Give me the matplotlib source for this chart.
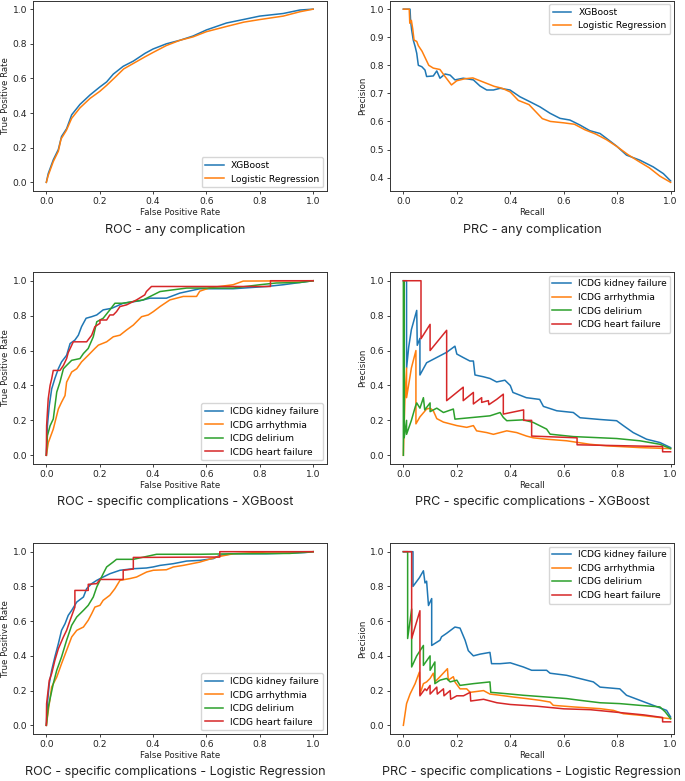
import matplotlib
matplotlib.use("Agg")
import matplotlib.pyplot as plt

# ---------------- data ----------------
# ROC - any complication
roc_any_xgb_fpr = [0, 0.007, 0.026, 0.045, 0.057, 0.076, 0.095, 0.126, 0.164, 0.2, 0.226, 0.251, 0.288, 0.326, 0.37, 0.40, 0.45, 0.5, 0.55, 0.6, 0.675, 0.738, 0.8, 0.888, 0.95, 1.0]
roc_any_xgb_tpr = [0, 0.05, 0.13, 0.19, 0.265, 0.31, 0.39, 0.45, 0.505, 0.55, 0.58, 0.625, 0.67, 0.70, 0.745, 0.77, 0.80, 0.82, 0.845, 0.88, 0.92, 0.94, 0.96, 0.975, 0.995, 1.0]
roc_any_lr_fpr = [0, 0.007, 0.026, 0.045, 0.055, 0.075, 0.095, 0.126, 0.164, 0.2, 0.226, 0.26, 0.29, 0.33, 0.37, 0.40, 0.45, 0.5, 0.55, 0.6, 0.675, 0.74, 0.8, 0.888, 0.95, 1.0]
roc_any_lr_tpr = [0, 0.04, 0.12, 0.18, 0.25, 0.30, 0.37, 0.43, 0.485, 0.525, 0.56, 0.61, 0.655, 0.69, 0.725, 0.75, 0.79, 0.82, 0.84, 0.87, 0.90, 0.925, 0.94, 0.96, 0.985, 1.0]

# PRC - any complication
prc_any_xgb_rec = [0, 0.025, 0.027, 0.031, 0.037, 0.044, 0.05, 0.056, 0.069, 0.081, 0.087, 0.112, 0.125, 0.137, 0.156, 0.175, 0.193, 0.224, 0.262, 0.287, 0.312, 0.337, 0.362, 0.399, 0.436, 0.474, 0.511, 0.549, 0.586, 0.623, 0.661, 0.698, 0.736, 0.761, 0.798, 0.835, 0.885, 0.935, 0.973, 1.0]
prc_any_xgb_prec = [1.0, 1.0, 0.96, 0.926, 0.89, 0.867, 0.843, 0.80, 0.795, 0.783, 0.76, 0.762, 0.78, 0.754, 0.769, 0.765, 0.748, 0.754, 0.748, 0.726, 0.712, 0.712, 0.718, 0.712, 0.688, 0.670, 0.652, 0.629, 0.611, 0.605, 0.587, 0.567, 0.557, 0.539, 0.512, 0.48, 0.462, 0.438, 0.414, 0.388]
prc_any_lr_rec = [0, 0.022, 0.024, 0.03, 0.035, 0.04, 0.05, 0.056, 0.07, 0.085, 0.095, 0.112, 0.137, 0.156, 0.18, 0.2, 0.23, 0.26, 0.3, 0.34, 0.37, 0.40, 0.43, 0.47, 0.5, 0.52, 0.55, 0.6, 0.64, 0.68, 0.72, 0.76, 0.8, 0.84, 0.88, 0.92, 0.96, 1.0]
prc_any_lr_prec = [1.0, 1.0, 0.95, 0.96, 0.93, 0.89, 0.885, 0.87, 0.85, 0.82, 0.80, 0.79, 0.785, 0.76, 0.73, 0.745, 0.752, 0.755, 0.74, 0.725, 0.718, 0.705, 0.675, 0.66, 0.63, 0.61, 0.60, 0.595, 0.59, 0.57, 0.555, 0.535, 0.51, 0.482, 0.458, 0.435, 0.405, 0.383]

labels_spec = ["ICDG kidney failure", "ICDG arrhythmia", "ICDG delirium", "ICDG heart failure"]

# ROC - specific - XGBoost
roc_xgb_kidney_fpr = [0, 0.004, 0.011, 0.02, 0.032, 0.045, 0.057, 0.076, 0.089, 0.107, 0.12, 0.132, 0.149, 0.17, 0.189, 0.213, 0.245, 0.288, 0.35, 0.388, 0.45, 0.5, 0.575, 0.70, 0.825, 0.888, 1.0]
roc_xgb_kidney_tpr = [0, 0.17, 0.285, 0.38, 0.44, 0.496, 0.535, 0.573, 0.64, 0.66, 0.688, 0.737, 0.785, 0.794, 0.804, 0.833, 0.842, 0.871, 0.885, 0.90, 0.90, 0.929, 0.954, 0.954, 0.967, 0.977, 1.0]
roc_xgb_arr_fpr = [0, 0.0075, 0.026, 0.045, 0.057, 0.07, 0.076, 0.095, 0.114, 0.132, 0.157, 0.182, 0.195, 0.226, 0.251, 0.276, 0.3, 0.326, 0.357, 0.382, 0.401, 0.426, 0.463, 0.513, 0.563, 0.575, 0.613, 0.7, 0.738, 1.0]
roc_xgb_arr_tpr = [0, 0.073, 0.15, 0.265, 0.304, 0.342, 0.419, 0.477, 0.496, 0.535, 0.573, 0.612, 0.631, 0.65, 0.679, 0.688, 0.717, 0.746, 0.794, 0.804, 0.823, 0.852, 0.89, 0.91, 0.91, 0.94, 0.96, 0.977, 0.998, 1.0]
roc_xgb_del_fpr = [0, 0.004, 0.014, 0.026, 0.039, 0.051, 0.064, 0.076, 0.095, 0.126, 0.139, 0.157, 0.176, 0.189, 0.213, 0.238, 0.257, 0.288, 0.326, 0.363, 0.426, 0.526, 0.7, 0.8, 0.862, 0.95, 1.0]
roc_xgb_del_tpr = [0, 0.112, 0.169, 0.208, 0.362, 0.419, 0.496, 0.515, 0.544, 0.554, 0.583, 0.612, 0.679, 0.765, 0.785, 0.833, 0.871, 0.871, 0.881, 0.89, 0.938, 0.958, 0.958, 0.977, 0.987, 0.99, 1.0]
roc_xgb_hf_fpr = [0, 0.001, 0.007, 0.014, 0.02, 0.026, 0.051, 0.064, 0.076, 0.082, 0.101, 0.151, 0.17, 0.182, 0.201, 0.201, 0.226, 0.238, 0.251, 0.263, 0.276, 0.301, 0.338, 0.369, 0.375, 0.394, 0.6, 0.84, 0.84, 1.0]
roc_xgb_hf_tpr = [0, 0.169, 0.323, 0.40, 0.438, 0.486, 0.486, 0.515, 0.554, 0.588, 0.65, 0.65, 0.688, 0.737, 0.756, 0.775, 0.775, 0.804, 0.804, 0.823, 0.852, 0.862, 0.89, 0.919, 0.938, 0.967, 0.967, 0.967, 1.0, 1.0]

# PRC - specific - XGBoost
prc_xgb_kidney_rec = [0, 0.012, 0.012, 0.02, 0.03, 0.05, 0.052, 0.062, 0.062, 0.087, 0.112, 0.137, 0.162, 0.193, 0.2, 0.224, 0.249, 0.262, 0.268, 0.299, 0.324, 0.349, 0.38, 0.4, 0.41, 0.46, 0.51, 0.524, 0.574, 0.636, 0.661, 0.736, 0.798, 0.823, 0.86, 0.91, 0.96, 1.0]
prc_xgb_kidney_prec = [1.0, 1.0, 0.5, 0.62, 0.72, 0.83, 0.63, 0.67, 0.46, 0.53, 0.55, 0.57, 0.59, 0.625, 0.58, 0.56, 0.54, 0.54, 0.46, 0.45, 0.44, 0.42, 0.43, 0.40, 0.36, 0.33, 0.32, 0.28, 0.255, 0.245, 0.215, 0.205, 0.198, 0.17, 0.13, 0.092, 0.073, 0.044]
prc_xgb_arr_rec = [0, 0.006, 0.012, 0.012, 0.03, 0.047, 0.047, 0.062, 0.087, 0.1, 0.112, 0.125, 0.15, 0.175, 0.2, 0.237, 0.262, 0.274, 0.312, 0.337, 0.387, 0.424, 0.461, 0.486, 0.536, 0.611, 0.698, 0.761, 0.885, 1.0]
prc_xgb_arr_prec = [0, 0.33, 0.5, 0.33, 0.5, 0.6, 0.18, 0.22, 0.265, 0.27, 0.255, 0.21, 0.19, 0.18, 0.17, 0.16, 0.17, 0.14, 0.13, 0.12, 0.14, 0.13, 0.11, 0.10, 0.092, 0.083, 0.063, 0.054, 0.044, 0.038]
prc_xgb_del_rec = [0, 0, 0.003, 0.003, 0.012, 0.012, 0.03, 0.045, 0.05, 0.062, 0.075, 0.08, 0.1, 0.1, 0.125, 0.15, 0.187, 0.193, 0.262, 0.324, 0.362, 0.374, 0.387, 0.449, 0.486, 0.536, 0.549, 0.636, 0.711, 0.798, 0.885, 0.96, 1.0]
prc_xgb_del_prec = [0, 1.0, 1.0, 0.1, 0.2, 0.12, 0.2, 0.28, 0.3, 0.27, 0.33, 0.26, 0.3, 0.25, 0.27, 0.245, 0.265, 0.207, 0.217, 0.226, 0.245, 0.217, 0.198, 0.203, 0.188, 0.15, 0.121, 0.107, 0.102, 0.096, 0.083, 0.063, 0.038]
prc_xgb_hf_rec = [0, 0.066, 0.066, 0.1, 0.1, 0.162, 0.162, 0.224, 0.224, 0.262, 0.262, 0.293, 0.293, 0.318, 0.32, 0.349, 0.374, 0.374, 0.45, 0.45, 0.48, 0.48, 0.65, 0.65, 0.97, 0.97, 1.0]
prc_xgb_hf_prec = [1.0, 1.0, 0.668, 0.75, 0.60, 0.716, 0.313, 0.39, 0.313, 0.36, 0.294, 0.33, 0.303, 0.313, 0.29, 0.32, 0.35, 0.236, 0.26, 0.20, 0.20, 0.11, 0.10, 0.06, 0.05, 0.02, 0.02]

# ROC - specific - Logistic Regression
roc_lr_kidney_fpr = [0, 0.004, 0.011, 0.02, 0.032, 0.045, 0.057, 0.07, 0.082, 0.095, 0.114, 0.139, 0.151, 0.17, 0.189, 0.213, 0.238, 0.276, 0.326, 0.375, 0.4, 0.426, 0.476, 0.526, 0.576, 0.626, 0.65, 0.7, 0.825, 0.97, 1.0]
roc_lr_kidney_tpr = [0, 0.125, 0.24, 0.317, 0.394, 0.47, 0.547, 0.585, 0.633, 0.662, 0.71, 0.739, 0.787, 0.816, 0.835, 0.854, 0.873, 0.893, 0.902, 0.906, 0.912, 0.921, 0.931, 0.946, 0.95, 0.96, 0.979, 0.988, 0.988, 0.995, 1.0]
roc_lr_arr_fpr = [0, 0.0075, 0.02, 0.039, 0.057, 0.076, 0.095, 0.114, 0.139, 0.157, 0.17, 0.182, 0.201, 0.213, 0.238, 0.257, 0.276, 0.313, 0.338, 0.376, 0.401, 0.45, 0.476, 0.513, 0.575, 0.638, 0.7, 0.825, 1.0]
roc_lr_arr_tpr = [0, 0.086, 0.221, 0.278, 0.355, 0.432, 0.509, 0.547, 0.566, 0.605, 0.643, 0.681, 0.691, 0.72, 0.749, 0.787, 0.835, 0.845, 0.854, 0.883, 0.893, 0.896, 0.912, 0.921, 0.94, 0.969, 0.988, 0.998, 1.0]
roc_lr_del_fpr = [0, 0.0075, 0.026, 0.039, 0.057, 0.076, 0.095, 0.114, 0.139, 0.157, 0.176, 0.189, 0.201, 0.213, 0.226, 0.251, 0.263, 0.326, 0.413, 0.575, 0.7, 0.912, 1.0]
roc_lr_del_tpr = [0, 0.106, 0.24, 0.317, 0.394, 0.49, 0.576, 0.624, 0.662, 0.691, 0.739, 0.797, 0.835, 0.873, 0.912, 0.941, 0.956, 0.956, 0.985, 0.985, 0.988, 0.99, 1.0]
roc_lr_hf_fpr = [0, 0.001, 0.011, 0.02, 0.032, 0.045, 0.064, 0.076, 0.089, 0.107, 0.107, 0.157, 0.157, 0.189, 0.201, 0.288, 0.288, 0.326, 0.326, 0.363, 0.6, 0.65, 0.65, 1.0]
roc_lr_hf_tpr = [0, 0.125, 0.259, 0.298, 0.374, 0.441, 0.509, 0.547, 0.605, 0.681, 0.777, 0.777, 0.812, 0.816, 0.840, 0.840, 0.893, 0.90, 0.967, 0.967, 0.969, 0.969, 1.0, 1.0]

# PRC - specific - Logistic Regression
prc_lr_kidney_rec = [0, 0.036, 0.036, 0.06, 0.075, 0.081, 0.087, 0.094, 0.106, 0.106, 0.137, 0.143, 0.162, 0.193, 0.212, 0.231, 0.243, 0.262, 0.287, 0.324, 0.33, 0.362, 0.4, 0.449, 0.48, 0.536, 0.549, 0.611, 0.661, 0.711, 0.736, 0.81, 0.835, 0.885, 0.935, 0.985, 1.0]
prc_lr_kidney_prec = [1.0, 1.0, 0.8, 0.85, 0.89, 0.82, 0.83, 0.69, 0.73, 0.46, 0.49, 0.51, 0.53, 0.566, 0.56, 0.49, 0.43, 0.40, 0.41, 0.42, 0.355, 0.355, 0.36, 0.336, 0.317, 0.317, 0.30, 0.288, 0.269, 0.25, 0.22, 0.21, 0.173, 0.144, 0.115, 0.086, 0.048]
prc_lr_arr_rec = [0, 0.012, 0.025, 0.044, 0.06, 0.062, 0.075, 0.087, 0.1, 0.112, 0.118, 0.137, 0.165, 0.168, 0.187, 0.193, 0.212, 0.237, 0.25, 0.3, 0.324, 0.362, 0.411, 0.461, 0.511, 0.549, 0.561, 0.636, 0.736, 0.786, 0.823, 0.885, 1.0]
prc_lr_arr_prec = [0, 0.125, 0.18, 0.24, 0.307, 0.18, 0.24, 0.25, 0.27, 0.30, 0.25, 0.28, 0.326, 0.26, 0.28, 0.25, 0.21, 0.21, 0.19, 0.20, 0.18, 0.173, 0.163, 0.154, 0.144, 0.134, 0.115, 0.106, 0.096, 0.086, 0.067, 0.058, 0.038]
prc_lr_del_rec = [0, 0.016, 0.016, 0.031, 0.031, 0.05, 0.075, 0.075, 0.1, 0.1, 0.118, 0.118, 0.137, 0.162, 0.175, 0.2, 0.212, 0.262, 0.324, 0.327, 0.387, 0.449, 0.536, 0.611, 0.661, 0.736, 0.81, 0.885, 0.96, 0.98, 1.0]
prc_lr_del_prec = [1.0, 1.0, 0.5, 0.67, 0.336, 0.40, 0.46, 0.345, 0.40, 0.317, 0.365, 0.24, 0.26, 0.27, 0.25, 0.26, 0.23, 0.24, 0.25, 0.19, 0.182, 0.173, 0.163, 0.154, 0.144, 0.13, 0.125, 0.115, 0.106, 0.077, 0.038]
prc_lr_hf_rec = [0, 0.031, 0.031, 0.062, 0.062, 0.081, 0.087, 0.1, 0.1, 0.125, 0.127, 0.15, 0.152, 0.175, 0.177, 0.2, 0.225, 0.25, 0.252, 0.3, 0.35, 0.4, 0.5, 0.6, 0.7, 0.8, 0.9, 0.97, 0.97, 1.0]
prc_lr_hf_prec = [1.0, 1.0, 0.5, 0.66, 0.17, 0.21, 0.2, 0.23, 0.18, 0.22, 0.18, 0.21, 0.17, 0.2, 0.15, 0.17, 0.17, 0.19, 0.14, 0.15, 0.13, 0.12, 0.11, 0.095, 0.09, 0.075, 0.06, 0.045, 0.02, 0.02]

titles = ["ROC - any complication", "PRC - any complication",
          "ROC - specific complications - XGBoost", "PRC - specific complications - XGBoost",
          "ROC - specific complications - Logistic Regression", "PRC - specific complications - Logistic Regression"]

# ---------------- figure ----------------
W, H = 685, 781
fig = plt.figure(figsize=(W / 100, H / 100), dpi=100)

TICK_FS = 6.6
LABEL_FS = 6.2
LEG_FS = 6.6
TITLE_FS = 9.0
LW = 1.1

def px_axes(left, top, right, bottom):
    return fig.add_axes([left / W, 1 - bottom / H, (right - left) / W, (bottom - top) / H])

def style(ax, xlabel, ylabel):
    for s in ax.spines.values():
        s.set_linewidth(0.7)
        s.set_color("#333333")
    ax.tick_params(labelsize=TICK_FS, length=2.2, width=0.6, pad=2, colors="#222222")
    ax.set_xlabel(xlabel, fontsize=LABEL_FS, labelpad=1.5, color="#222222")
    ax.set_ylabel(ylabel, fontsize=LABEL_FS, labelpad=2, color="#222222")
    ax.set_xticks([0, 0.2, 0.4, 0.6, 0.8, 1.0])

cols = ["#1f77b4", "#ff7f0e", "#2ca02c", "#d62728"]

rows = [(0.5, 191), (272, 464), (543, 734)]
lefts = [(33, 326.5), (390, 674)]
title_y = [230, 502, 772]
title_x = [175, 532]

axes = []
for r, (t, b) in enumerate(rows):
    for c, (l, rr) in enumerate(lefts):
        axes.append(px_axes(l, t, rr, b))

# Row 1
ax = axes[0]
ax.plot(roc_any_xgb_fpr, roc_any_xgb_tpr, color=cols[0], lw=LW, label="XGBoost")
ax.plot(roc_any_lr_fpr, roc_any_lr_tpr, color=cols[1], lw=LW, label="Logistic Regression")
style(ax, "False Positive Rate", "True Positive Rate")
ax.legend(loc="lower right", fontsize=LEG_FS, borderaxespad=0.4, handlelength=2.0)

ax = axes[1]
ax.plot(prc_any_xgb_rec, prc_any_xgb_prec, color=cols[0], lw=LW, label="XGBoost")
ax.plot(prc_any_lr_rec, prc_any_lr_prec, color=cols[1], lw=LW, label="Logistic Regression")
style(ax, "Recall", "Precision")
ax.legend(loc="upper right", fontsize=LEG_FS, borderaxespad=0.4, handlelength=2.0)

# Row 2
ax = axes[2]
for xs, ys, col, lab in [(roc_xgb_kidney_fpr, roc_xgb_kidney_tpr, cols[0], labels_spec[0]),
                         (roc_xgb_arr_fpr, roc_xgb_arr_tpr, cols[1], labels_spec[1]),
                         (roc_xgb_del_fpr, roc_xgb_del_tpr, cols[2], labels_spec[2]),
                         (roc_xgb_hf_fpr, roc_xgb_hf_tpr, cols[3], labels_spec[3])]:
    ax.plot(xs, ys, color=col, lw=LW, label=lab)
style(ax, "False Positive Rate", "True Positive Rate")
ax.legend(loc="lower right", fontsize=LEG_FS, borderaxespad=0.4, handlelength=2.0)

ax = axes[3]
for xs, ys, col, lab in [(prc_xgb_kidney_rec, prc_xgb_kidney_prec, cols[0], labels_spec[0]),
                         (prc_xgb_arr_rec, prc_xgb_arr_prec, cols[1], labels_spec[1]),
                         (prc_xgb_del_rec, prc_xgb_del_prec, cols[2], labels_spec[2]),
                         (prc_xgb_hf_rec, prc_xgb_hf_prec, cols[3], labels_spec[3])]:
    ax.plot(xs, ys, color=col, lw=LW, label=lab)
style(ax, "Recall", "Precision")
ax.legend(loc="upper right", fontsize=LEG_FS, borderaxespad=0.4, handlelength=2.0)

# Row 3
ax = axes[4]
for xs, ys, col, lab in [(roc_lr_kidney_fpr, roc_lr_kidney_tpr, cols[0], labels_spec[0]),
                         (roc_lr_arr_fpr, roc_lr_arr_tpr, cols[1], labels_spec[1]),
                         (roc_lr_del_fpr, roc_lr_del_tpr, cols[2], labels_spec[2]),
                         (roc_lr_hf_fpr, roc_lr_hf_tpr, cols[3], labels_spec[3])]:
    ax.plot(xs, ys, color=col, lw=LW, label=lab)
style(ax, "False Positive Rate", "True Positive Rate")
ax.legend(loc="lower right", fontsize=LEG_FS, borderaxespad=0.4, handlelength=2.0)

ax = axes[5]
for xs, ys, col, lab in [(prc_lr_kidney_rec, prc_lr_kidney_prec, cols[0], labels_spec[0]),
                         (prc_lr_arr_rec, prc_lr_arr_prec, cols[1], labels_spec[1]),
                         (prc_lr_del_rec, prc_lr_del_prec, cols[2], labels_spec[2]),
                         (prc_lr_hf_rec, prc_lr_hf_prec, cols[3], labels_spec[3])]:
    ax.plot(xs, ys, color=col, lw=LW, label=lab)
style(ax, "Recall", "Precision")
ax.legend(loc="upper right", fontsize=LEG_FS, borderaxespad=0.4, handlelength=2.0)

for c in (1, 3, 5):
    axes[c].set_xlim(-0.05, 1.0127)

for i, t in enumerate(titles):
    r, c = divmod(i, 2)
    fig.text(title_x[c] / W, 1 - title_y[r] / H, t, ha="center", va="center",
             fontsize=TITLE_FS, family=["Inter", "DejaVu Sans"], color="#222222")

fig.savefig("out.png", dpi=100)
